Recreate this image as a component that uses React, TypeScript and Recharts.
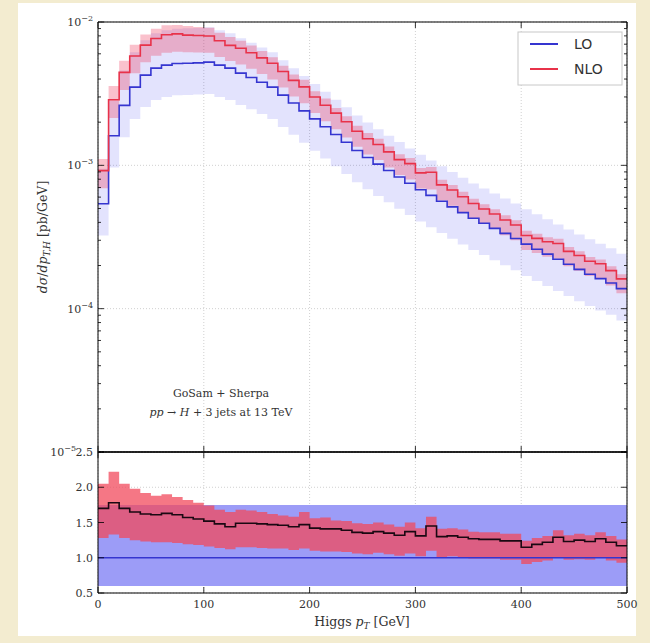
import React from 'react';
import { ComposedChart, Area, Line, XAxis, YAxis, CartesianGrid } from 'recharts';

// bin edges (GeV)
const binEdges = [0, 10, 20, 30, 40, 50, 60, 70, 80, 90, 100, 110, 120, 130, 140, 150, 160, 170, 180, 190,
  200, 210, 220, 230, 240, 250, 260, 270, 280, 290, 300, 310, 320, 330, 340, 350, 360, 370, 380, 390,
  400, 410, 420, 430, 440, 450, 460, 470, 480, 490, 500];

// LO central dsigma/dpT [pb/GeV] per bin
const loCentral = [5.4e-4, 1.61e-3, 2.62e-3, 3.51e-3, 4.26e-3, 4.77e-3, 5.0e-3, 5.13e-3, 5.16e-3, 5.19e-3,
  5.25e-3, 5.0e-3, 4.77e-3, 4.4e-3, 4.1e-3, 3.8e-3, 3.51e-3, 3.09e-3, 2.72e-3, 2.4e-3,
  2.11e-3, 1.86e-3, 1.64e-3, 1.45e-3, 1.27e-3, 1.135e-3, 1.02e-3, 9.2e-4, 8.3e-4, 7.5e-4,
  6.76e-4, 6.17e-4, 5.62e-4, 5.13e-4, 4.68e-4, 4.27e-4, 3.94e-4, 3.63e-4, 3.35e-4, 3.09e-4,
  2.82e-4, 2.6e-4, 2.4e-4, 2.21e-4, 2.04e-4, 1.88e-4, 1.74e-4, 1.62e-4, 1.51e-4, 1.38e-4];

// NLO / LO ratio, central and scale band
const ratioCentral = [1.70, 1.78, 1.70, 1.65, 1.62, 1.61, 1.63, 1.61, 1.57, 1.55,
  1.52, 1.48, 1.44, 1.49, 1.49, 1.48, 1.47, 1.46, 1.44, 1.47,
  1.42, 1.41, 1.41, 1.39, 1.36, 1.35, 1.37, 1.35, 1.32, 1.37,
  1.31, 1.45, 1.30, 1.31, 1.29, 1.27, 1.26, 1.26, 1.24, 1.24,
  1.15, 1.19, 1.22, 1.29, 1.23, 1.25, 1.23, 1.27, 1.22, 1.17];
const ratioNloHigh = [2.05, 2.22, 2.05, 1.98, 1.92, 1.88, 1.90, 1.86, 1.82, 1.78,
  1.74, 1.68, 1.65, 1.68, 1.67, 1.65, 1.62, 1.60, 1.58, 1.65,
  1.56, 1.57, 1.53, 1.52, 1.49, 1.48, 1.50, 1.47, 1.44, 1.50,
  1.42, 1.58, 1.41, 1.42, 1.40, 1.37, 1.36, 1.36, 1.34, 1.34,
  1.24, 1.28, 1.31, 1.39, 1.32, 1.34, 1.32, 1.36, 1.31, 1.26];
const ratioNloLow = [1.28, 1.33, 1.28, 1.25, 1.23, 1.22, 1.22, 1.21, 1.19, 1.18,
  1.16, 1.14, 1.12, 1.15, 1.15, 1.14, 1.13, 1.13, 1.11, 1.13,
  1.10, 1.09, 1.09, 1.08, 1.06, 1.05, 1.07, 1.05, 1.03, 1.06,
  1.02, 1.10, 1.01, 1.02, 1.01, 0.99, 0.99, 0.99, 0.97, 0.97,
  0.91, 0.94, 0.96, 1.01, 0.97, 0.98, 0.97, 1.00, 0.96, 0.93];
const LO_BAND_LOW = 0.6;
const LO_BAND_HIGH = 1.75;

const xTicks = [0, 100, 200, 300, 400, 500];
const logMajorTicks = [1e-5, 1e-4, 1e-3, 1e-2];
const logMinorTicks = [2e-5, 3e-5, 4e-5, 5e-5, 6e-5, 7e-5, 8e-5, 9e-5,
  2e-4, 3e-4, 4e-4, 5e-4, 6e-4, 7e-4, 8e-4, 9e-4,
  2e-3, 3e-3, 4e-3, 5e-3, 6e-3, 7e-3, 8e-3, 9e-3];
const ratioTicks = [0.5, 1.0, 1.5, 2.0, 2.5];
const ratioTickLabels = ['0.5', '1.0', '1.5', '2.0', '2.5'];

const last = loCentral.length - 1;
const topData = binEdges.map((x, i) => {
  const k = Math.min(i, last);
  const lo = loCentral[k];
  return {
    x,
    lo,
    nlo: lo * ratioCentral[k],
    loBand: [lo * LO_BAND_LOW, lo * LO_BAND_HIGH],
    nloBand: [lo * ratioNloLow[k], lo * ratioNloHigh[k]],
  };
});
const ratioData = binEdges.map((x, i) => {
  const k = Math.min(i, last);
  return {
    x,
    r: ratioCentral[k],
    one: 1,
    loBand: [LO_BAND_LOW, LO_BAND_HIGH],
    nloBand: [ratioNloLow[k], ratioNloHigh[k]],
  };
});

const SERIF = '"DejaVu Serif", "Liberation Serif", serif';
const SANS = '"DejaVu Sans", "Liberation Sans", sans-serif';
const TXT = '#333';

const LogTick = (props: any) => {
  const { x, y, payload, side } = props;
  const v = payload.value;
  const lg = Math.log10(v);
  const e = Math.round(lg);
  const major = Math.abs(lg - e) < 1e-6;
  const len = major ? 6 : 3;
  const dir = side === 'left' ? 1 : -1;
  // the lowest label shares its height with the ratio panel's top label
  const shift = e === -5 ? 22 : 5;
  return (
    <g>
      <line x1={x} x2={x + dir * len} y1={y} y2={y} stroke="#000" strokeWidth={0.8} />
      {major && side === 'left' && (
        <text x={x - shift} y={y + 4} textAnchor="end" fontSize={11} fill={TXT} fontFamily={SERIF}>
          10<tspan dy={-5} fontSize={8}>{'\u2212' + Math.abs(e)}</tspan>
        </text>
      )}
    </g>
  );
};

const RatioYTick = (props: any) => {
  const { x, y, payload, side } = props;
  const dir = side === 'left' ? 1 : -1;
  const idx = ratioTicks.indexOf(payload.value);
  return (
    <g>
      <line x1={x} x2={x + dir * 6} y1={y} y2={y} stroke="#000" strokeWidth={0.8} />
      {side === 'left' && (
        <text x={x - 5} y={y + 4} textAnchor="end" fontSize={11} fill={TXT} fontFamily={SERIF}>
          {ratioTickLabels[idx]}
        </text>
      )}
    </g>
  );
};

const XTick = (props: any) => {
  const { x, y, payload, side, label } = props;
  const dir = side === 'top' ? 1 : -1;
  return (
    <g>
      <line x1={x} x2={x} y1={y} y2={y + dir * 6} stroke="#000" strokeWidth={0.8} />
      {label && (
        <text x={x} y={y + 15} textAnchor="middle" fontSize={11} fill={TXT} fontFamily={SERIF}>
          {String(payload.value)}
        </text>
      )}
    </g>
  );
};

export default function App() {
  return (
    <div style={{ position: 'absolute', left: 0, top: 0, width: 650, height: 643, background: '#f3ecd0', overflow: 'hidden' }}>
      <div style={{ position: 'absolute', left: 18, top: 3, width: 618, height: 633, background: '#ffffff' }} />
      {/* Main distribution */}
      <div style={{ position: 'absolute', left: 0, top: 0 }}>
        <ComposedChart width={650} height={460} data={topData} margin={{ top: 0, right: 0, bottom: 0, left: 0 }}>
          <CartesianGrid stroke="#d0d0d0" strokeDasharray="1 2" horizontalValues={logMajorTicks} verticalValues={xTicks} />
          <XAxis dataKey="x" type="number" domain={[0, 500]} ticks={xTicks} interval={0} height={8}
            axisLine={{ stroke: '#000' }} tickLine={false} tickSize={0} tickMargin={0}
            tick={(p: any) => <XTick {...p} side="bottom" label={false} />} allowDataOverflow />
          <XAxis xAxisId="t" orientation="top" dataKey="x" type="number" domain={[0, 500]} ticks={xTicks} interval={0} height={22}
            axisLine={{ stroke: '#000' }} tickLine={false} tickSize={0} tickMargin={0}
            tick={(p: any) => <XTick {...p} side="top" label={false} />} allowDataOverflow />
          <YAxis scale="log" domain={[1e-5, 1e-2]} allowDataOverflow ticks={[...logMajorTicks, ...logMinorTicks]} interval={0} width={98}
            axisLine={{ stroke: '#000' }} tickLine={false} tickSize={0} tickMargin={0}
            tick={(p: any) => <LogTick {...p} side="left" />} />
          <YAxis yAxisId="r" orientation="right" scale="log" domain={[1e-5, 1e-2]} allowDataOverflow ticks={[...logMajorTicks, ...logMinorTicks]} interval={0} width={23}
            axisLine={{ stroke: '#000' }} tickLine={false} tickSize={0} tickMargin={0}
            tick={(p: any) => <LogTick {...p} side="right" />} />
          <Area dataKey="loBand" type="stepAfter" stroke="none" fill="#0000ee" fillOpacity={0.11} isAnimationActive={false} />
          <Area dataKey="nloBand" type="stepAfter" stroke="none" fill="#ee3355" fillOpacity={0.3} isAnimationActive={false} />
          <Line dataKey="lo" type="stepAfter" stroke="#3535d0" strokeWidth={1.6} dot={false} isAnimationActive={false} />
          <Line dataKey="nlo" type="stepAfter" stroke="#e8324a" strokeWidth={1.6} dot={false} isAnimationActive={false} />
        </ComposedChart>
      </div>
      {/* Ratio panel */}
      <div style={{ position: 'absolute', left: 0, top: 440 }}>
        <ComposedChart width={650} height={203} data={ratioData} margin={{ top: 0, right: 0, bottom: 0, left: 0 }}>
          <CartesianGrid stroke="#d0d0d0" strokeDasharray="1 2" horizontalValues={ratioTicks} verticalValues={xTicks} />
          <XAxis dataKey="x" type="number" domain={[0, 500]} ticks={xTicks} interval={0} height={50}
            axisLine={{ stroke: '#000' }} tickLine={false} tickSize={0} tickMargin={0}
            tick={(p: any) => <XTick {...p} side="bottom" label={true} />} allowDataOverflow />
          <XAxis xAxisId="t" orientation="top" dataKey="x" type="number" domain={[0, 500]} ticks={xTicks} interval={0} height={12}
            axisLine={{ stroke: '#000', strokeWidth: 1.5 }} tickLine={false} tickSize={0} tickMargin={0}
            tick={(p: any) => <XTick {...p} side="top" label={false} />} allowDataOverflow />
          <YAxis domain={[0.5, 2.5]} allowDataOverflow ticks={ratioTicks} interval={0} width={98}
            axisLine={{ stroke: '#000' }} tickLine={false} tickSize={0} tickMargin={0}
            tick={(p: any) => <RatioYTick {...p} side="left" />} />
          <YAxis yAxisId="r" orientation="right" domain={[0.5, 2.5]} allowDataOverflow ticks={ratioTicks} interval={0} width={23}
            axisLine={{ stroke: '#000' }} tickLine={false} tickSize={0} tickMargin={0}
            tick={(p: any) => <RatioYTick {...p} side="right" />} />
          <Area dataKey="loBand" type="stepAfter" stroke="none" fill="#9c9cf7" fillOpacity={1} isAnimationActive={false} />
          <Area dataKey="nloBand" type="stepAfter" stroke="none" fill="#f24a5c" fillOpacity={0.75} isAnimationActive={false} />
          <Line dataKey="one" type="stepAfter" stroke="#3535d0" strokeWidth={1.6} dot={false} isAnimationActive={false} />
          <Line dataKey="r" type="stepAfter" stroke="#1a0812" strokeWidth={1.6} dot={false} isAnimationActive={false} />
        </ComposedChart>
      </div>
      {/* Texts */}
      <svg width={650} height={643} style={{ position: 'absolute', left: 0, top: 0, pointerEvents: 'none' }}>
        <text transform="translate(47,237) rotate(-90)" textAnchor="middle" fontSize={12.5} fill={TXT} fontFamily={SERIF}>
          <tspan fontStyle="italic">dσ</tspan>/<tspan fontStyle="italic">dp</tspan>
          <tspan dy={3} fontSize={9} fontStyle="italic">T,H</tspan>
          <tspan dy={-3}> [pb/GeV]</tspan>
        </text>
        <text x={362} y={626} textAnchor="middle" fontSize={12.5} fill={TXT} fontFamily={SERIF}>
          Higgs <tspan fontStyle="italic">p</tspan><tspan dy={3} fontSize={9} fontStyle="italic">T</tspan><tspan dy={-3}> [GeV]</tspan>
        </text>
        <text x={221} y={397} textAnchor="middle" fontSize={11} fill={TXT} fontFamily={SERIF}>GoSam + Sherpa</text>
        <text x={221} y={416} textAnchor="middle" fontSize={11} fill={TXT} fontFamily={SERIF}>
          <tspan fontStyle="italic">pp</tspan> → <tspan fontStyle="italic">H</tspan> + 3 jets at 13 TeV
        </text>
        <rect x={518} y={32} width={104} height={53} fill="#fff" stroke="#c8c8c8" strokeWidth={1} />
        <line x1={530} x2={558} y1={44} y2={44} stroke="#3535d0" strokeWidth={2} />
        <line x1={530} x2={558} y1={69} y2={69} stroke="#e8324a" strokeWidth={2} />
        <text x={574} y={49} fontSize={14} fill={TXT} fontFamily={SANS}>LO</text>
        <text x={574} y={74} fontSize={14} fill={TXT} fontFamily={SANS}>NLO</text>
      </svg>
    </div>
  );
}
